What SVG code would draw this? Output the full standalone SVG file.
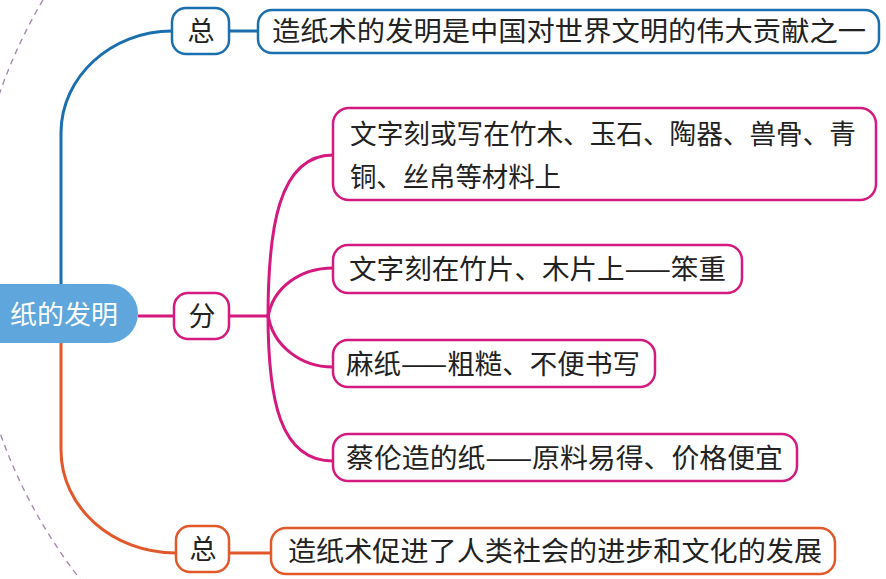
<svg xmlns="http://www.w3.org/2000/svg" width="886" height="579" viewBox="0 0 886 579">
<style>
.t{font-family:"Noto Sans CJK SC","Noto Sans",sans-serif;font-size:27px;fill:#222}
.c{text-anchor:middle}
.box{fill:#fff;stroke-width:2.5}
.blue{stroke:#1b6fae}
.mag{stroke:#d4197f}
.org{stroke:#e2582b}
.ln{fill:none;stroke-width:3}
</style>
<rect width="886" height="579" fill="#fff"/>
<path d="M43 0 A514 514 0 0 0 80 579" fill="none" stroke="#a58aae" stroke-width="1.4" stroke-dasharray="6 5"/>
<g id="connectors">
<path class="ln blue" d="M172 31 C111 31 61 77 61 133 V290"/>
<path class="ln blue" d="M229 31 H258"/>
<path class="ln org" d="M61 338 V450 C61 507 112 553 176 553"/>
<path class="ln org" d="M229 553 H271"/>
<path class="ln mag" d="M138 316 H174"/>
<path class="ln mag" d="M229 316 H268"/>
<path class="ln mag" d="M268 318 C268 230 278 155 333 155"/>
<path class="ln mag" d="M268 318 C272 288 300 268 333 268"/>
<path class="ln mag" d="M268 314 C272 345 300 367 333 367"/>
<path class="ln mag" d="M268 314 C268 400 280 461 333 461"/>
</g>
<g id="root">
<rect x="-30" y="284" width="168" height="59" rx="29.5" fill="#5ea6dc"/>
<text class="t" x="10" y="324" textLength="108" lengthAdjust="spacingAndGlyphs" style="fill:#fff;font-size:26px">纸的发明</text>
</g>
<g id="zong1">
<rect class="box blue" x="172" y="8" width="57" height="46" rx="14"/>
<text class="t c" x="201" y="41">总</text>
</g>
<g id="zong1-text">
<rect class="box blue" x="258" y="10" width="621" height="43" rx="14"/>
<text class="t" x="272" y="41" textLength="594" lengthAdjust="spacingAndGlyphs">造纸术的发明是中国对世界文明的伟大贡献之一</text>
</g>
<g id="fen">
<rect class="box mag" x="174" y="293" width="55" height="46" rx="14"/>
<text class="t c" x="202" y="326">分</text>
</g>
<g id="fen1">
<rect class="box mag" x="333" y="108" width="543" height="92" rx="16"/>
<text class="t" x="350" y="144" textLength="506" lengthAdjust="spacingAndGlyphs">文字刻或写在竹木、玉石、陶器、兽骨、青</text>
<text class="t" x="350" y="187" textLength="211" lengthAdjust="spacingAndGlyphs">铜、丝帛等材料上</text>
</g>
<g id="fen2">
<rect class="box mag" x="333" y="245" width="409" height="48" rx="15"/>
<text class="t" x="349" y="279" textLength="377" lengthAdjust="spacingAndGlyphs">文字刻在竹片、木片上——笨重</text>
</g>
<g id="fen3">
<rect class="box mag" x="333" y="340" width="322" height="47" rx="15"/>
<text class="t" x="346" y="374" textLength="294" lengthAdjust="spacingAndGlyphs">麻纸——粗糙、不便书写</text>
</g>
<g id="fen4">
<rect class="box mag" x="333" y="434" width="464" height="47" rx="15"/>
<text class="t" x="346" y="468" textLength="437" lengthAdjust="spacingAndGlyphs">蔡伦造的纸——原料易得、价格便宜</text>
</g>
<g id="zong2">
<rect class="box org" x="176" y="526" width="53" height="46" rx="14"/>
<text class="t c" x="203" y="559">总</text>
</g>
<g id="zong2-text">
<rect class="box org" x="271" y="528" width="564" height="46" rx="15"/>
<text class="t" x="288" y="561" textLength="534" lengthAdjust="spacingAndGlyphs">造纸术促进了人类社会的进步和文化的发展</text>
</g>
</svg>
